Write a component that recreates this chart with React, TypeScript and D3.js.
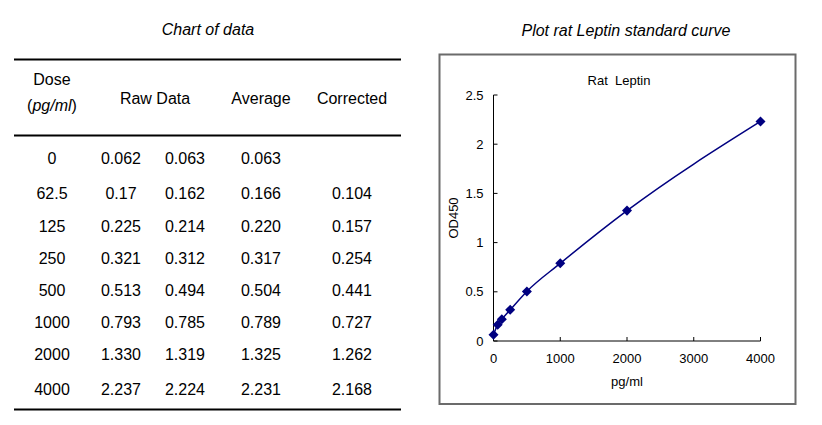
import React from "react";
import * as d3 from "d3";

// table data
const doses = ["0", "62.5", "125", "250", "500", "1000", "2000", "4000"];
const raw1 = ["0.062", "0.17", "0.225", "0.321", "0.513", "0.793", "1.330", "2.237"];
const raw2 = ["0.063", "0.162", "0.214", "0.312", "0.494", "0.785", "1.319", "2.224"];
const averages = ["0.063", "0.166", "0.220", "0.317", "0.504", "0.789", "1.325", "2.231"];
const corrected = ["", "0.104", "0.157", "0.254", "0.441", "0.727", "1.262", "2.168"];

// curve data
const concentrations = [0, 62.5, 125, 250, 500, 1000, 2000, 4000];
const od450 = [0.063, 0.166, 0.22, 0.317, 0.504, 0.789, 1.325, 2.231];
const xTicks = [0, 1000, 2000, 3000, 4000];
const yTicks = [0, 0.5, 1, 1.5, 2, 2.5];

const FONT = "'Liberation Sans', Arial, sans-serif";
const NAVY = "#000080";

const rowY = [158, 193, 226, 258, 290, 322, 354, 389];
const colX = { dose: 52, raw1: 121, raw2: 185, avg: 261, corr: 352 };

function DataTable() {
  return (
    <g fontFamily={FONT} fontSize={16} fill="#000" textAnchor="middle">
      <text x={208} y={35} fontStyle="italic">Chart of data</text>
      <line x1={14} x2={401} y1={59.5} y2={59.5} stroke="#000" strokeWidth={2} />
      <text x={colX.dose} y={85}>Dose</text>
      <text x={colX.dose} y={111}>
        (<tspan fontStyle="italic">pg/ml</tspan>)
      </text>
      <text x={155} y={104}>Raw Data</text>
      <text x={colX.avg} y={104}>Average</text>
      <text x={colX.corr} y={104}>Corrected</text>
      <line x1={14} x2={401} y1={135.5} y2={135.5} stroke="#000" strokeWidth={2} />
      {doses.map((d, i) => (
        <g key={d}>
          <text x={colX.dose} y={rowY[i] + 6}>{d}</text>
          <text x={colX.raw1} y={rowY[i] + 6}>{raw1[i]}</text>
          <text x={colX.raw2} y={rowY[i] + 6}>{raw2[i]}</text>
          <text x={colX.avg} y={rowY[i] + 6}>{averages[i]}</text>
          <text x={colX.corr} y={rowY[i] + 6}>{corrected[i]}</text>
        </g>
      ))}
      <line x1={14} x2={401} y1={409.5} y2={409.5} stroke="#000" strokeWidth={2} />
    </g>
  );
}

function StandardCurve() {
  const x = d3.scaleLinear().domain([0, 4000]).range([493.5, 760.5]);
  const y = d3.scaleLinear().domain([0, 2.5]).range([341, 95]);
  const pts = concentrations.map((c, i) => [x(c), y(od450[i])] as [number, number]);
  const line = d3.line().curve(d3.curveMonotoneX)(pts) || "";
  const diamond = d3.symbol().type(d3.symbolDiamond2).size(64)() || "";

  return (
    <g fontFamily={FONT} fill="#000">
      <text x={626} y={36} fontSize={16} fontStyle="italic" textAnchor="middle">
        Plot rat Leptin standard curve
      </text>
      <rect x={439.5} y={54.5} width={356} height={349.5} fill="#fff" stroke="#6b6b6b" strokeWidth={2} />
      <text x={619} y={85} fontSize={13} textAnchor="middle" style={{ whiteSpace: "pre" }}>
        Rat  Leptin
      </text>
      {/* y axis */}
      <line x1={x(0)} x2={x(0)} y1={y(2.5)} y2={y(0)} stroke="#000" />
      {yTicks.map(t => (
        <g key={t}>
          <line x1={x(0)} x2={x(0) + 4} y1={y(t)} y2={y(t)} stroke="#000" />
          <text x={x(0) - 10} y={y(t) + 4.5} fontSize={13} textAnchor="end">{t}</text>
        </g>
      ))}
      {/* x axis */}
      <line x1={x(0)} x2={x(4000)} y1={y(0)} y2={y(0)} stroke="#000" />
      {xTicks.map(t => (
        <g key={t}>
          <line x1={x(t)} x2={x(t)} y1={y(0)} y2={y(0) - 4} stroke="#000" />
          <text x={x(t)} y={y(0) + 22} fontSize={13} textAnchor="middle">{t}</text>
        </g>
      ))}
      <text x={627} y={386} fontSize={13} textAnchor="middle">pg/ml</text>
      <text
        transform={`translate(458, 218) rotate(-90)`}
        fontSize={13}
        textAnchor="middle"
      >
        OD450
      </text>
      <path d={line} fill="none" stroke={NAVY} strokeWidth={1.5} />
      {pts.map(([px, py], i) => (
        <path key={i} d={diamond} transform={`translate(${px},${py})`} fill={NAVY} />
      ))}
    </g>
  );
}

export default function App() {
  return (
    <div style={{ position: "fixed", left: 0, top: 0, width: 822, height: 425, background: "#fff" }}>
      <svg width={822} height={425}>
        <DataTable />
        <StandardCurve />
      </svg>
    </div>
  );
}
